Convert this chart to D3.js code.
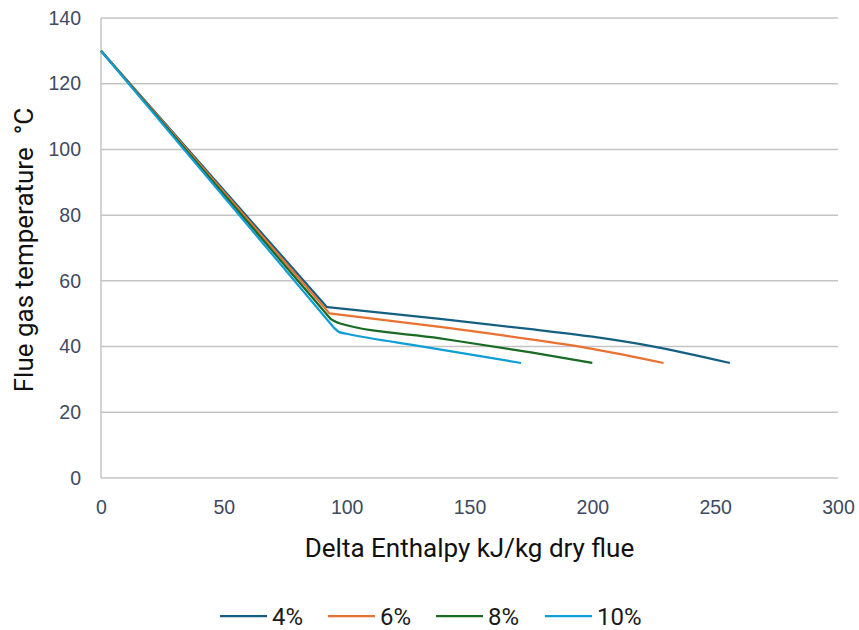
<!DOCTYPE html>
<html>
<head>
<meta charset="utf-8">
<script src="https://cdn.jsdelivr.net/npm/d3@7"></script>
<style>
  body { margin: 0; background: #fff; }
  svg { font-family: Roboto, "Liberation Sans", Arial, sans-serif; }
</style>
</head>
<body>
<div id="chart"></div>
<script>
// series names and colours
let seriesNames = ["4%", "6%", "8%", "10%"];
let seriesColors = ["#156082", "#E97132", "#196B24", "#0F9ED5"];

// delta enthalpy (x) and flue gas temperature (y) per series
// first point: start, second: knee, rest: condensing tail
let x4 = [0, 92, 138, 175, 200, 225, 256];
let y4 = [130, 52, 48.4, 45.3, 43, 40, 35];
let x6 = [0, 93, 138, 175, 200, 229];
let y6 = [130, 50.1, 46, 42.2, 39.3, 35];
let x8 = [0, 93.5, 97, 138, 175, 200];
let y8 = [130, 48.4, 47.1, 42.5, 38.2, 35];
let x10 = [0, 95, 97, 100, 131, 171];
let y10 = [130, 45.6, 44.4, 43.9, 40, 35];

let xTicks = [0, 50, 100, 150, 200, 250, 300];
let yTicks = [0, 20, 40, 60, 80, 100, 120, 140];

let xTitle = "Delta Enthalpy kJ/kg dry flue";
let yTitle = "Flue gas temperature  \u00B0C";

let width = 859, height = 630;
let margin = {top: 18, right: 21, bottom: 152, left: 101};

let svg = d3.select("#chart").append("svg")
    .attr("width", width)
    .attr("height", height);

let x = d3.scaleLinear().domain([0, 300]).range([margin.left, width - margin.right]);
let y = d3.scaleLinear().domain([0, 140]).range([height - margin.bottom, margin.top]);

let textColor = "#3d4b5f";
let gridColor = "#c4c4c4";

// horizontal gridlines
svg.append("g")
    .selectAll("line")
    .data(yTicks)
    .enter()
    .append("line")
    .attr("x1", x(0))
    .attr("x2", x(300))
    .attr("y1", d => y(d))
    .attr("y2", d => y(d))
    .style("stroke", gridColor)
    .style("stroke-width", 1.5);

// y axis line
svg.append("line")
    .attr("x1", x(0)).attr("x2", x(0))
    .attr("y1", y(0)).attr("y2", y(140))
    .style("stroke", gridColor)
    .style("stroke-width", 1.5);

// y tick labels
let yAxis = svg.append("g")
    .attr("transform", "translate(" + (x(0) - 20) + ",0)")
    .call(d3.axisLeft(y).tickValues(yTicks).tickSize(0).tickPadding(0));
yAxis.select(".domain").remove();
yAxis.selectAll("text")
    .style("font-size", "19.5px")
    .style("fill", textColor);

// x tick labels
let xAxis = svg.append("g")
    .attr("transform", "translate(0," + (y(0) + 14) + ")")
    .call(d3.axisBottom(x).tickValues(xTicks).tickSize(0).tickPadding(8));
xAxis.select(".domain").remove();
xAxis.selectAll("text")
    .style("font-size", "19.5px")
    .style("fill", textColor);

// axis titles
svg.append("text")
    .attr("x", (x(0) + x(300)) / 2)
    .attr("y", 556.5)
    .attr("text-anchor", "middle")
    .style("font-size", "26px")
    .style("fill", "#111")
    .text(xTitle);

svg.append("text")
    .attr("transform", "translate(33," + 250 + ") rotate(-90)")
    .attr("text-anchor", "middle")
    .style("font-size", "26px")
    .style("white-space", "pre")
    .style("fill", "#111")
    .text(yTitle);

// lines: straight cooling segment, smooth condensing tail
let seriesX = [x4, x6, x8, x10];
let seriesY = [y4, y6, y8, y10];
let straight = d3.line()
    .x(d => x(d[0]))
    .y(d => y(d[1]));
let smooth = d3.line()
    .x(d => x(d[0]))
    .y(d => y(d[1]))
    .curve(d3.curveMonotoneX);

seriesNames.forEach(function(name, i){
    let pts = seriesX[i].map((v, j) => [v, seriesY[i][j]]);
    let head = pts.slice(0, 2);
    let tail = pts.slice(1);
    let d = straight(head) + "L" + smooth(tail).slice(1);
    svg.append("path")
        .attr("d", d)
        .style("fill", "none")
        .style("stroke", seriesColors[i])
        .style("stroke-width", 2.25)
        .style("stroke-linejoin", "round");
});

// legend
let legendX = [220, 328, 436, 545];
let legend = svg.append("g");
seriesNames.forEach(function(name, i){
    legend.append("line")
        .attr("x1", legendX[i]).attr("x2", legendX[i] + 47)
        .attr("y1", 616).attr("y2", 616)
        .style("stroke", seriesColors[i])
        .style("stroke-width", 2.25);
    legend.append("text")
        .attr("x", legendX[i] + 52)
        .attr("y", 625)
        .style("font-size", "24px")
        .style("fill", "#1a1a1a")
        .text(name);
});
</script>
</body>
</html>
